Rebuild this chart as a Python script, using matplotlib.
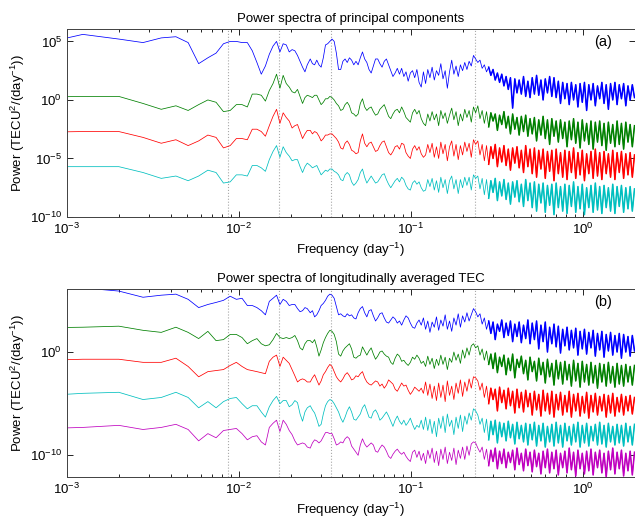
import numpy as np
import matplotlib
matplotlib.use("Agg")
import matplotlib.pyplot as plt
from matplotlib.ticker import FixedLocator, LogLocator, NullFormatter, NullLocator

plt.rcParams['font.family'] = ['Liberation Sans', 'DejaVu Sans']
plt.rcParams['mathtext.default'] = 'regular'

# Frequency grid (day^-1): DFT bins at low frequency, log-spaced above
freq = np.concatenate([0.00047 + 0.000766 * np.arange(33), np.geomspace(0.026, 2.0, 150)])

# Spectra in dB (10*log10 of power)
# ---- panel (a): principal components
a_pc1 = [42, 56, 52, 49, 53, 54, 49, 31, 36, 40, 48, 50, 50, 49, 49, 42, 32, 22, 29, 39,
         46, 50, 41, 48, 47, 41, 43, 42, 38, 33, 28, 24, 30,
         35, 31, 30, 34, 30, 28, 36, 47, 48, 50, 52, 50, 40, 26, 26, 33, 35, 32, 36, 34,
         30, 33, 30, 36, 41, 35, 32, 26, 23, 29, 35, 35, 31, 28, 33, 35, 30, 25, 20, 23,
         27, 22, 27, 20, 24, 16, 23, 25, 19, 26, 15, 11, 24, 14, 26, 19, 28, 17, 25, 21,
         31, 18, 25, 10, 24, 34, 22, 29, 20, 30, 25, 32, 26, 33, 29, 38, 35, 32, 34, 27,
         30, 24, 28, 21, 26, 17, 23, 15, 22, 12, 20, 9, 19, -7, 18, 6, 17, 5, 20, 3,
         16, 2, 19, 5, 21, 4, 17, 0, 18, 6, 20, 3, 19, 2, 16, -3, 15, 1, 14, -4,
         15, 0, 13, -6, 14, -2, 15, -9, 13, 0, 14, -5, 12, 1, 15, -3, 13, -8, 14, 0,
         15, -4, 13, 1, 14, -5, 12, 0, 13, 2]
a_pc2 = [2, 3, 3, -3, -8, -5, -9, -4, 0, -2, -10, -9, -4, -4, -6, 5, 5, 4, -1, 8,
         14, 22, 10, 21, 14, 11, 7, 6, 9, 3, -3, 2, 4,
         3, 2, 4, 4, 0, -4, -2, 1, 1, 3, 2, 0, -3, -5, -9, -8, -4, -2, -5, -11,
         -12, -14, -12, -3, 1, -6, -9, -7, -6, -10, -13, -12, -8, -6, -4, -9, -14, -16, -12, -9,
         -8, -11, -6, -10, -15, -17, -19, -11, -8, -12, -9, -16, -20, -22, -12, -18, -10, -17, -12, -22,
         -9, -16, -11, -20, -13, -7, -17, -10, -22, -12, -18, -8, -15, -9, -19, -6, -11, -5, -16, -9,
         -20, -10, -23, -11, -18, -12, -26, -13, -21, -10, -24, -14, -29, -12, -25, -15, -30, -14, -27, -13,
         -31, -16, -29, -15, -35, -17, -30, -14, -33, -17, -38, -16, -31, -18, -36, -17, -33, -19, -40, -18,
         -34, -16, -37, -19, -41, -17, -35, -20, -38, -18, -42, -19, -36, -18, -39, -20, -43, -19, -37, -21,
         -40, -18, -38, -20, -42, -19, -36, -21, -40, -22]
a_pc3 = [-28, -27, -27, -32, -37, -34, -39, -35, -30, -32, -41, -39, -33, -33, -34, -25, -25, -27, -31, -22,
         -14, -8, -20, -11, -15, -18, -24, -22, -21, -27, -33, -29, -26,
         -26, -29, -27, -28, -31, -35, -33, -30, -30, -29, -29, -31, -33, -36, -41, -42, -37, -35, -38, -43,
         -44, -46, -45, -35, -29, -37, -40, -37, -36, -40, -44, -43, -39, -36, -35, -40, -45, -47, -44, -40,
         -39, -42, -37, -38, -45, -48, -50, -42, -39, -43, -40, -46, -49, -47, -38, -45, -37, -49, -40, -50,
         -36, -46, -38, -52, -40, -35, -48, -38, -51, -39, -47, -36, -44, -37, -49, -34, -38, -35, -47, -38,
         -52, -39, -55, -40, -50, -38, -57, -41, -53, -39, -56, -42, -60, -41, -54, -40, -58, -43, -62, -39,
         -57, -42, -63, -41, -66, -43, -59, -42, -67, -44, -61, -43, -69, -42, -63, -45, -66, -43, -68, -44,
         -62, -41, -67, -45, -64, -43, -69, -46, -63, -44, -67, -42, -65, -45, -68, -44, -63, -46, -66, -43,
         -68, -45, -62, -44, -67, -46, -64, -45, -66, -47]
a_pc4 = [-57, -57, -57, -62, -67, -65, -69, -65, -60, -62, -71, -70, -64, -64, -65, -56, -56, -58, -61, -51,
         -44, -39, -49, -40, -45, -48, -52, -51, -51, -57, -62, -57, -54,
         -56, -58, -57, -56, -60, -64, -62, -60, -61, -59, -59, -61, -62, -64, -68, -69, -64, -62, -64, -70,
         -73, -71, -68, -62, -59, -66, -71, -68, -65, -68, -71, -70, -67, -64, -63, -68, -72, -75, -72, -69,
         -67, -70, -66, -68, -73, -76, -77, -71, -69, -72, -70, -75, -78, -77, -68, -74, -67, -77, -69, -79,
         -66, -75, -68, -80, -69, -65, -76, -68, -80, -68, -75, -66, -73, -66, -77, -64, -67, -65, -76, -67,
         -81, -68, -84, -69, -79, -67, -86, -70, -82, -68, -85, -71, -89, -70, -83, -69, -87, -72, -91, -68,
         -86, -71, -92, -70, -95, -72, -88, -71, -96, -73, -90, -72, -98, -71, -92, -74, -95, -72, -97, -73,
         -91, -70, -96, -74, -93, -72, -98, -75, -92, -73, -96, -71, -94, -74, -97, -73, -92, -75, -95, -72,
         -97, -74, -91, -73, -96, -75, -93, -74, -95, -76]

# ---- panel (b): longitudinally averaged TEC
b_s1 = [58, 62, 59, 53, 55, 56, 51, 43, 46, 48, 50, 54, 51, 52, 45, 45, 43, 40, 36, 49,
        52, 55, 46, 51, 49, 45, 46, 46, 42, 39, 40, 43, 42,
        38, 40, 34, 36, 40, 45, 47, 50, 54, 56, 55, 52, 44, 36, 37, 35, 34, 37, 35, 36,
        33, 32, 38, 42, 44, 38, 34, 40, 41, 35, 30, 33, 37, 38, 33, 29, 28, 31, 34, 32,
        28, 30, 26, 31, 35, 33, 28, 24, 23, 28, 31, 26, 33, 22, 30, 19, 29, 24, 34, 21,
        31, 25, 36, 22, 30, 20, 33, 26, 37, 24, 35, 29, 38, 30, 36, 42, 39, 34, 37, 27,
        33, 22, 30, 18, 29, 12, 27, 20, 31, 14, 28, 16, 30, 10, 27, 15, 29, 9, 26, 13,
        31, 8, 28, 12, 30, 3, 26, 10, 29, 0, 24, 8, 27, 5, 25, -1, 22, 6, 24, 2,
        21, 4, 23, -3, 20, 3, 22, -2, 19, 4, 21, -4, 18, 2, 20, -5, 17, 1, 19, -3,
        16, 0, 18, -6, 17, 0, 15, -4, 16, 1]
b_s2 = [23, 24, 25, 21, 19, 24, 19, 13, 20, 11, 12, 17, 17, 14, 8, 11, 13, 8, 6, 7,
        12, 18, 14, 13, 14, 13, 14, 16, 11, 4, 2, 8, 11,
        11, 9, 12, 5, -4, 2, 9, 14, 18, 21, 20, 17, 10, -2, -4, 1, 4, 6, 8, 3,
        -5, -6, -4, -3, 5, 1, -3, 1, 4, -2, -7, -4, 0, 1, -2, -4, -5, -10, -12, -6,
        -2, -4, -9, -8, -11, -13, -10, -5, -7, -3, -6, -11, -9, -14, -4, -12, -6, -16, -7, -13,
        -3, -12, -5, -17, -6, -10, 0, -8, -2, -11, 2, -6, 4, -3, 6, 8, 4, 6, -3, 3,
        -8, 1, -12, -2, -16, -1, -20, -5, -14, -3, -22, -6, -18, -2, -25, -7, -15, -4, -21, -8,
        -27, -5, -19, -9, -28, -6, -22, -10, -30, -7, -24, -11, -32, -8, -26, -10, -31, -9, -27, -12,
        -33, -8, -28, -11, -34, -9, -29, -12, -32, -10, -30, -13, -35, -11, -29, -12, -33, -10, -30, -14,
        -34, -11, -31, -13, -33, -12, -29, -14, -32, -13]
b_s3 = [-9, -7, -7, -10, -10, -6, -14, -24, -19, -18, -17, -13, -10, -14, -17, -18, -19, -20, -21, -9,
        -5, -3, -14, -5, -8, -11, -17, -23, -29, -27, -26, -27, -29,
        -29, -25, -22, -27, -32, -28, -22, -19, -15, -12, -14, -19, -24, -27, -29, -26, -22, -20, -23, -27,
        -26, -23, -24, -21, -19, -25, -29, -31, -32, -30, -28, -29, -33, -31, -35, -32, -27, -29, -31, -36,
        -38, -34, -30, -33, -32, -37, -41, -38, -34, -36, -38, -35, -40, -29, -42, -31, -45, -33, -47, -30,
        -44, -32, -48, -28, -42, -33, -46, -30, -40, -27, -43, -29, -38, -26, -35, -24, -25, -28, -37, -30,
        -44, -33, -50, -35, -46, -36, -57, -34, -49, -37, -55, -35, -52, -38, -59, -36, -54, -39, -58, -37,
        -53, -40, -61, -38, -56, -41, -62, -37, -57, -40, -60, -38, -63, -41, -56, -39, -61, -42, -58, -38,
        -63, -41, -57, -40, -62, -43, -59, -39, -64, -42, -58, -40, -61, -43, -57, -41, -63, -42, -59, -40,
        -62, -44, -58, -41, -61, -43, -57, -42, -60, -44]
b_s4 = [-44, -40, -39, -46, -44, -39, -44, -54, -48, -54, -48, -45, -44, -50, -55, -52, -52, -58, -63, -53,
        -47, -43, -50, -47, -47, -53, -51, -47, -49, -60, -67, -58, -54,
        -52, -56, -59, -65, -72, -70, -60, -52, -48, -46, -47, -50, -54, -58, -64, -68, -63, -57, -53, -58,
        -65, -66, -63, -60, -54, -51, -57, -63, -64, -58, -56, -60, -66, -64, -61, -58, -62, -67, -72, -66,
        -62, -67, -70, -66, -71, -68, -64, -70, -75, -71, -73, -66, -75, -63, -76, -65, -79, -67, -82, -64,
        -74, -62, -78, -60, -72, -66, -80, -63, -74, -61, -77, -62, -70, -59, -66, -55, -57, -61, -70, -64,
        -78, -65, -85, -67, -80, -66, -88, -68, -82, -69, -86, -67, -83, -70, -89, -68, -84, -71, -87, -69,
        -90, -70, -85, -68, -91, -71, -86, -69, -92, -72, -87, -70, -91, -68, -88, -71, -92, -69, -86, -72,
        -90, -70, -87, -68, -92, -71, -88, -69, -91, -72, -86, -70, -90, -68, -89, -71, -92, -69, -87, -72,
        -90, -70, -88, -71, -91, -69, -87, -72, -90, -70]
b_s5 = [-75, -73, -71, -75, -73, -70, -75, -86, -79, -83, -76, -75, -74, -79, -85, -82, -81, -87, -90, -73,
        -69, -66, -77, -66, -70, -76, -80, -86, -90, -89, -88, -89, -92,
        -93, -88, -85, -86, -88, -86, -82, -78, -78, -79, -79, -84, -90, -89, -87, -88, -84, -82, -84, -91,
        -94, -97, -100, -90, -84, -89, -92, -90, -88, -90, -96, -97, -93, -90, -92, -96, -101, -103, -99, -96,
        -94, -97, -99, -97, -101, -104, -106, -97, -95, -102, -96, -105, -98, -108, -95, -103, -93, -107, -96, -110,
        -94, -104, -92, -108, -97, -105, -93, -109, -95, -103, -92, -104, -91, -100, -89, -87, -88, -93, -97, -92,
        -104, -94, -110, -95, -106, -93, -113, -96, -108, -94, -112, -97, -107, -95, -114, -93, -109, -98, -115, -94,
        -110, -97, -116, -95, -111, -98, -118, -96, -112, -94, -117, -97, -113, -95, -119, -98, -112, -96, -117, -93,
        -114, -97, -120, -95, -113, -98, -118, -96, -115, -94, -119, -97, -112, -95, -117, -98, -121, -96, -114, -93,
        -118, -97, -113, -95, -120, -98, -115, -96, -119, -97]

marker_freqs = [0.0086, 0.0171, 0.0343, 0.235]
colors_a = ['#0000ff', '#008000', '#ff0000', '#00bfbf']
colors_b = ['#0000ff', '#008000', '#ff0000', '#00bfbf', '#bf00bf']

fig = plt.figure(figsize=(6.35, 5.22), dpi=100)
ax_a = fig.add_axes([67 / 635, 1 - 217 / 522, 567.5 / 635, 188 / 522])
ax_b = fig.add_axes([67 / 635, 1 - 476.7 / 522, 567.5 / 635, 187.4 / 522])

panels = [
    (ax_a, [a_pc1, a_pc2, a_pc3, a_pc4], colors_a, (1e-10, 10 ** 6.06), [1e-10, 1e-5, 1e0, 1e5],
     'Power spectra of principal components', '(a)'),
    (ax_b, [b_s1, b_s2, b_s3, b_s4, b_s5], colors_b, (10 ** -12.07, 10 ** 6.07), [1e-10, 1e0],
     'Power spectra of longitudinally averaged TEC', '(b)'),
]

dense = freq >= 0.28

for ax, series, cols, ylim, yticks, title, tag in panels:
    for f in marker_freqs:
        ax.axvline(f, color='#a8a8a8', ls=':', lw=0.8, zorder=0)
    for db, c in zip(series, cols):
        p = 10 ** (np.asarray(db, float) / 10)
        ax.plot(freq, p, color=c, lw=0.55)
        ax.plot(freq[dense], p[dense], color=c, lw=1.1)
    ax.set_xscale('log')
    ax.set_yscale('log')
    ax.set_xlim(1e-3, 2)
    ax.set_ylim(*ylim)
    ax.yaxis.set_major_locator(FixedLocator(yticks))
    ax.yaxis.set_minor_locator(NullLocator())
    ax.xaxis.set_major_locator(LogLocator(base=10))
    ax.xaxis.set_minor_locator(LogLocator(base=10, subs=np.arange(2, 10)))
    ax.xaxis.set_minor_formatter(NullFormatter())
    ax.tick_params(which='both', direction='in', top=True, right=True, labelsize=9.5, width=0.6)
    ax.tick_params(which='major', length=4.5)
    ax.tick_params(which='minor', length=2.5)
    for sp in ax.spines.values():
        sp.set_linewidth(0.7)
        sp.set_color('#404040')
    ax.set_title(title, fontsize=9.5, pad=5)
    ax.set_xlabel('Frequency (day$^{-1}$)', fontsize=9.5, labelpad=3)
    ax.set_ylabel('Power (TECU$^{2}$/(day$^{-1}$))', fontsize=9.5, labelpad=2)
    ax.text(0.944, 0.931, tag, transform=ax.transAxes, ha='center', va='center', fontsize=10.5)

fig.savefig('out.png', dpi=100)
